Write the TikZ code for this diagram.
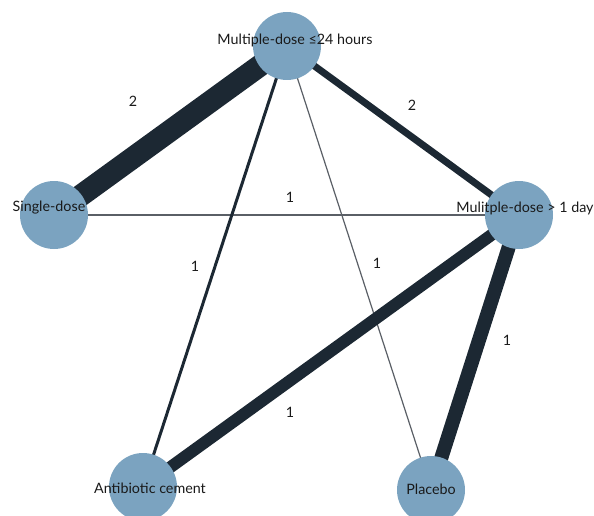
\documentclass[tikz,border=0pt]{standalone}
\usepackage{fontspec}
\setmainfont{Lato}
\definecolor{nodefill}{HTML}{7BA3C0}
\definecolor{edgedark}{HTML}{1C2833}
\definecolor{edgethin}{HTML}{5A5F66}
\begin{document}
\begin{tikzpicture}[x=1pt,y=-1pt,
  trt/.style={circle,fill=nodefill,minimum size=68pt,inner sep=0pt},
  edge/.style={draw=edgedark,line cap=butt},
  lbl/.style={font=\fontsize{14.3}{16}\selectfont,text=black!90,inner sep=0pt}]
\useasboundingbox (0,0) rectangle (594,516);
\clip (0,0) rectangle (594,516);
\coordinate (A) at (287,46);
\coordinate (B) at (54,215);
\coordinate (C) at (519,215);
\coordinate (D) at (143,487);
\coordinate (E) at (431,490);
\draw[edge,line width=22pt] (A) -- (B);
\draw[edge,line width=7pt] (A) -- (C);
\draw[draw=edgethin,line width=1.3pt] (B) -- (C);
\draw[edge,line width=3pt] (A) -- (D);
\draw[draw=edgethin,line width=1.2pt] (A) -- (E);
\draw[edge,line width=12pt] (C) -- (D);
\draw[edge,line width=14pt] (C) -- (E);
\node[trt] (n1) at (A) {};
\node[trt] (n2) at (B) {};
\node[trt] (n3) at (C) {};
\node[trt] (n4) at (D) {};
\node[trt] (n5) at (E) {};
\node[lbl] (t1) at (295,40) {Multiple-dose ≤24 hours};
\node[lbl] (t2) at (49,208) {Single-dose};
\node[lbl] (t3) at (525,208) {Mulitple-dose > 1 day};
\node[lbl] (t4) at (150,488) {Antibiotic cement};
\node[lbl] (t5) at (431,489) {Placebo};
\node[lbl] (l1) at (133,101) {2};
\node[lbl] (l2) at (412,105) {2};
\node[lbl] (l3) at (290,197) {1};
\node[lbl] (l4) at (195,266) {1};
\node[lbl] (l5) at (377,263) {1};
\node[lbl] (l6) at (290,412) {1};
\node[lbl] (l7) at (507,340) {1};
\end{tikzpicture}
\end{document}
